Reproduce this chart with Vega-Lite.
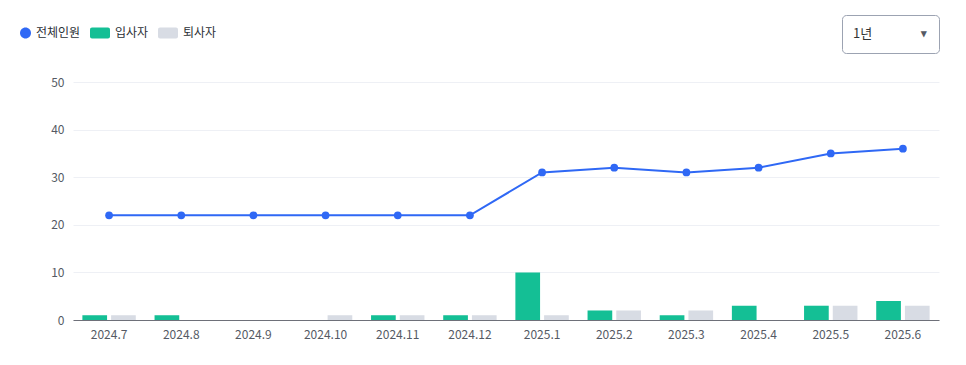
{
  "$schema": "https://vega.github.io/schema/vega-lite/v6.json",
  "width": 866,
  "height": 238,
  "autosize": {"type": "none"},
  "padding": {"left": 73, "top": 82, "right": 27, "bottom": 45},
  "background": "white",
  "config": {"font": "Noto Sans CJK KR", "view": {"stroke": null}},
  "datasets": {
    "people": [
      {"month": "2024.7", "series": "전체인원", "count": 22},
      {"month": "2024.8", "series": "전체인원", "count": 22},
      {"month": "2024.9", "series": "전체인원", "count": 22},
      {"month": "2024.10", "series": "전체인원", "count": 22},
      {"month": "2024.11", "series": "전체인원", "count": 22},
      {"month": "2024.12", "series": "전체인원", "count": 22},
      {"month": "2025.1", "series": "전체인원", "count": 31},
      {"month": "2025.2", "series": "전체인원", "count": 32},
      {"month": "2025.3", "series": "전체인원", "count": 31},
      {"month": "2025.4", "series": "전체인원", "count": 32},
      {"month": "2025.5", "series": "전체인원", "count": 35},
      {"month": "2025.6", "series": "전체인원", "count": 36},
      {"month": "2024.7", "series": "입사자", "count": 1},
      {"month": "2024.8", "series": "입사자", "count": 1},
      {"month": "2024.9", "series": "입사자", "count": 0},
      {"month": "2024.10", "series": "입사자", "count": 0},
      {"month": "2024.11", "series": "입사자", "count": 1},
      {"month": "2024.12", "series": "입사자", "count": 1},
      {"month": "2025.1", "series": "입사자", "count": 10},
      {"month": "2025.2", "series": "입사자", "count": 2},
      {"month": "2025.3", "series": "입사자", "count": 1},
      {"month": "2025.4", "series": "입사자", "count": 3},
      {"month": "2025.5", "series": "입사자", "count": 3},
      {"month": "2025.6", "series": "입사자", "count": 4},
      {"month": "2024.7", "series": "퇴사자", "count": 1},
      {"month": "2024.8", "series": "퇴사자", "count": 0},
      {"month": "2024.9", "series": "퇴사자", "count": 0},
      {"month": "2024.10", "series": "퇴사자", "count": 1},
      {"month": "2024.11", "series": "퇴사자", "count": 1},
      {"month": "2024.12", "series": "퇴사자", "count": 1},
      {"month": "2025.1", "series": "퇴사자", "count": 1},
      {"month": "2025.2", "series": "퇴사자", "count": 2},
      {"month": "2025.3", "series": "퇴사자", "count": 2},
      {"month": "2025.4", "series": "퇴사자", "count": 0},
      {"month": "2025.5", "series": "퇴사자", "count": 3},
      {"month": "2025.6", "series": "퇴사자", "count": 3}
    ],
    "period": [{"기간": "1년"}]
  },
  "layer": [
    {
      "data": {"name": "people"},
      "transform": [{"filter": "datum.series !== '전체인원'"}],
      "mark": {"type": "bar"},
      "encoding": {
        "x": {
          "field": "month", "type": "ordinal",
          "sort": ["2024.7","2024.8","2024.9","2024.10","2024.11","2024.12","2025.1","2025.2","2025.3","2025.4","2025.5","2025.6"],
          "scale": {"paddingInner": 0.26, "paddingOuter": 0.13},
          "title": null,
          "axis": {"labelAngle": 0, "ticks": false, "domainColor": "#6e7079", "domainWidth": 1, "labelColor": "#555a64", "labelFontSize": 12, "labelPadding": 9, "grid": false}
        },
        "xOffset": {"field": "series", "type": "nominal", "sort": ["입사자", "퇴사자"], "scale": {"paddingInner": 0.14, "paddingOuter": 0}},
        "y": {
          "field": "count", "type": "quantitative",
          "scale": {"domain": [0, 50]},
          "title": null,
          "axis": {"values": [0, 10, 20, 30, 40, 50], "domain": false, "ticks": false, "labelColor": "#555a64", "labelFontSize": 12, "labelPadding": 9, "gridColor": "#eef0f5", "gridWidth": 1}
        },
        "color": {
          "field": "series", "type": "nominal",
          "scale": {"domain": ["전체인원", "입사자", "퇴사자"], "range": ["#2f68f5", "#14bf95", "#d8dce4"]},
          "legend": {
            "orient": "none", "legendX": -62, "legendY": -59, "direction": "horizontal",
            "title": null, "symbolSize": 400, "symbolStrokeWidth": 0,
            "labelFontSize": 12, "labelColor": "#2b2f36", "labelOffset": 5, "columnPadding": 9,
            "encode": {"symbols": {"update": {
              "shape": {"signal": "datum.value === '전체인원' ? 'M1,0A0.55,0.55 0 1,1 -0.1,0A0.55,0.55 0 1,1 1,0Z' : 'M-0.8,-0.55L0.8,-0.55A0.2,0.2 0 0 1 1,-0.35L1,0.35A0.2,0.2 0 0 1 0.8,0.55L-0.8,0.55A0.2,0.2 0 0 1 -1,0.35L-1,-0.35A0.2,0.2 0 0 1 -0.8,-0.55Z'"},
              "strokeWidth": {"value": 0}
            }}}
          }
        }
      }
    },
    {
      "data": {"name": "people"},
      "transform": [{"filter": "datum.series === '전체인원'"}],
      "mark": {"type": "line", "strokeWidth": 2},
      "encoding": {
        "x": {"field": "month", "type": "ordinal", "sort": ["2024.7","2024.8","2024.9","2024.10","2024.11","2024.12","2025.1","2025.2","2025.3","2025.4","2025.5","2025.6"]},
        "y": {"field": "count", "type": "quantitative"},
        "color": {"field": "series", "type": "nominal"}
      }
    },
    {
      "data": {"name": "people"},
      "transform": [{"filter": "datum.series === '전체인원'"}],
      "mark": {"type": "point", "filled": true, "size": 60, "opacity": 1},
      "encoding": {
        "x": {"field": "month", "type": "ordinal", "sort": ["2024.7","2024.8","2024.9","2024.10","2024.11","2024.12","2025.1","2025.2","2025.3","2025.4","2025.5","2025.6"]},
        "y": {"field": "count", "type": "quantitative"},
        "color": {"field": "series", "type": "nominal"}
      }
    },
    {
      "data": {"name": "period"},
      "mark": {"type": "point", "opacity": 0},
      "encoding": {
        "shape": {
          "field": "기간", "type": "nominal",
          "legend": {
            "orient": "none", "legendX": 769, "legendY": -67,
            "title": "▾", "titleOrient": "right", "titleFontSize": 11, "titleColor": "#555a64", "titlePadding": 49,
            "labelFontSize": 13, "labelColor": "#333333", "labelOffset": -14,
            "symbolSize": 0, "symbolOpacity": 0, "symbolStrokeWidth": 0,
            "padding": 12, "strokeColor": "#9ca3b2", "cornerRadius": 4, "fillColor": "white"
          }
        }
      }
    }
  ]
}
